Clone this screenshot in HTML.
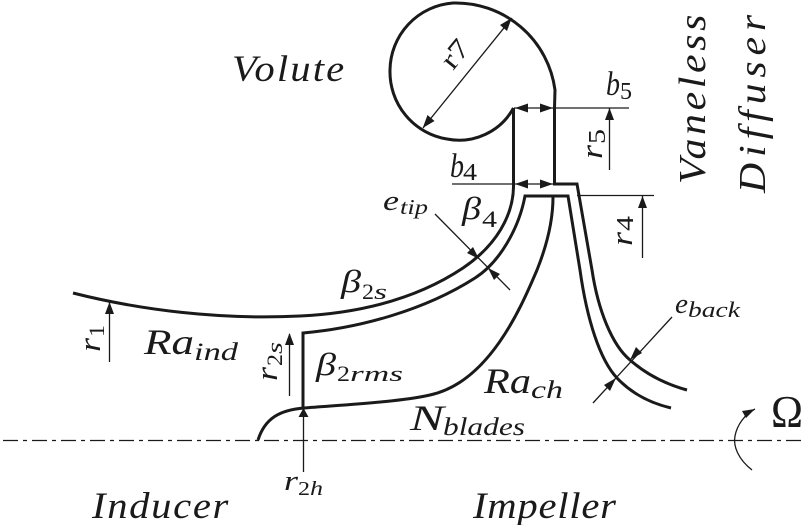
<!DOCTYPE html>
<html>
<head>
<meta charset="utf-8">
<style>
html,body{margin:0;padding:0;background:#fff;width:804px;height:525px;overflow:hidden}
svg{display:block}
text{font-family:"Liberation Serif",serif;font-style:italic;fill:#1a1a1a}
text.n{font-style:normal}
.c{fill:none;stroke:#1a1a1a;stroke-width:3;stroke-linejoin:miter}
.t{fill:none;stroke:#1a1a1a;stroke-width:1.3}
.a{fill:#1a1a1a;stroke:none}
</style>
</head>
<body>
<svg width="804" height="525" viewBox="0 0 804 525" xmlns="http://www.w3.org/2000/svg">
<!-- centre line -->
<line x1="0" y1="440.5" x2="804" y2="440.5" stroke="#1a1a1a" stroke-width="1.3" stroke-dasharray="15 5 4 5" stroke-dashoffset="26"/>

<!-- volute and casing -->
<path class="c" d="M513.5 108 A62 62 0 0 1 447 139 A68 68 0 0 1 390 70 A68 68 0 0 1 453 3 A100 100 0 0 1 555 90 L554.5 108 L554.5 184 L577 184 L592 270 C598 310 612 345 630 360 C646 374 665 384 687 390"/>
<path class="c" d="M513.5 108 L513.500 187 C513 215 497 245 463 268 C430 290 380 312 300 316 C220 320 140 310 73 293"/>
<path class="c" d="M303 408 L303 333 C360 328 425 310 475 278 C500 262 519 228 525 196 L568 196 L580 270 C587 320 600 360 617 378 C632 394 650 403 671 408"/>
<path class="c" d="M553 197 C553 225 545 250 537 270 C522 305 490 382 430 395 C400 402 340 405 304 408 C280 410 265 418 258 440"/>

<!-- r7 -->
<line class="t" x1="423" y1="128" x2="512" y2="18"/>
<polygon class="a" points="511.700,18 507,31 500,25"/>
<polygon class="a" points="422.700,128 434.500,121 427.500,115"/>
<!-- b5 -->
<line class="t" x1="514" y1="108" x2="629" y2="108"/>
<polygon class="a" points="515,108 528,103.500 528,112.500"/>
<polygon class="a" points="553,108 540,103.500 540,112.500"/>
<!-- r5 -->
<line class="t" x1="609.500" y1="108" x2="609.500" y2="170"/>
<polygon class="a" points="609.500,108 605,120 614,120"/>
<!-- b4 -->
<line class="t" x1="452" y1="184" x2="553" y2="184"/>
<polygon class="a" points="515,184 528,179.500 528,188.500"/>
<polygon class="a" points="553,184 540,179.500 540,188.500"/>
<!-- r4 -->
<line class="t" x1="577" y1="195.500" x2="654" y2="195.500"/>
<line class="t" x1="642.500" y1="196" x2="642.500" y2="258"/>
<polygon class="a" points="642.500,196 638,208 647,208"/>
<!-- etip -->
<line class="t" x1="435" y1="214" x2="510" y2="290"/>
<polygon class="a" points="479,259 473,247 467,253"/>
<polygon class="a" points="488,268 500,274 494,280"/>
<!-- eback -->
<line class="t" x1="672" y1="317" x2="593" y2="403"/>
<polygon class="a" points="630,360 642,353 636,347"/>
<polygon class="a" points="616,378 610,391 604,385"/>
<!-- r1 -->
<line class="t" x1="109.500" y1="302" x2="109.500" y2="362"/>
<polygon class="a" points="109.500,302 105,314 114,314"/>
<!-- r2s -->
<line class="t" x1="289.500" y1="334" x2="289.500" y2="396"/>
<polygon class="a" points="289.500,333 285,345 294,345"/>
<!-- r2h -->
<line class="t" x1="303.500" y1="409" x2="303.500" y2="472"/>
<polygon class="a" points="303.500,408 298.500,417 308.500,417"/>
<!-- omega arrow -->
<path class="t" d="M752 470 C738 459 733 446 735 436 C737 425 745 414 755 409"/>
<polygon class="a" points="755,409 746,418 742,411"/>

<!-- large labels -->
<text transform="translate(232,81) scale(1.1,1)" font-size="37" textLength="102" lengthAdjust="spacing">Volute</text>
<text transform="translate(705,184) rotate(-90) scale(1.1,1)" font-size="38" textLength="154" lengthAdjust="spacing">Vaneless</text>
<text transform="translate(765,193) rotate(-90) scale(1.1,1)" font-size="38" textLength="162" lengthAdjust="spacing">Diffuser</text>
<text transform="translate(92,518) scale(1.1,1)" font-size="37" textLength="124" lengthAdjust="spacing">Inducer</text>
<text transform="translate(473,518) scale(1.1,1)" font-size="37" textLength="130" lengthAdjust="spacing">Impeller</text>

<!-- r7 -->
<text class="n" transform="translate(453,71) rotate(-51)" font-size="28" textLength="29" lengthAdjust="spacingAndGlyphs">r7</text>
<!-- b5 -->
<text x="606" y="95" font-size="34" textLength="14" lengthAdjust="spacingAndGlyphs">b</text>
<text class="n" x="620" y="99" font-size="24" textLength="12" lengthAdjust="spacingAndGlyphs">5</text>
<!-- r5 -->
<text transform="translate(602,159) rotate(-90)" font-size="31" textLength="14" lengthAdjust="spacingAndGlyphs">r</text>
<text class="n" transform="translate(605,144) rotate(-90)" font-size="24" textLength="15" lengthAdjust="spacingAndGlyphs">5</text>
<!-- b4 -->
<text x="450" y="177" font-size="34" textLength="14" lengthAdjust="spacingAndGlyphs">b</text>
<text class="n" x="463" y="180" font-size="24" textLength="14" lengthAdjust="spacingAndGlyphs">4</text>
<!-- r4 -->
<text transform="translate(632,246) rotate(-90)" font-size="31" textLength="14" lengthAdjust="spacingAndGlyphs">r</text>
<text class="n" transform="translate(633,231) rotate(-90)" font-size="24" textLength="15" lengthAdjust="spacingAndGlyphs">4</text>
<!-- etip -->
<text x="383" y="210" font-size="28" textLength="16" lengthAdjust="spacingAndGlyphs">e</text>
<text x="400" y="214" font-size="21" textLength="28" lengthAdjust="spacingAndGlyphs">tip</text>
<!-- beta4 -->
<text x="462" y="219" font-size="32" textLength="19" lengthAdjust="spacingAndGlyphs">β</text>
<text class="n" x="482" y="227" font-size="23" textLength="15" lengthAdjust="spacingAndGlyphs">4</text>
<!-- beta2s -->
<text x="341" y="292" font-size="32" textLength="20" lengthAdjust="spacingAndGlyphs">β</text>
<text class="n" x="362" y="299" font-size="22" textLength="12" lengthAdjust="spacingAndGlyphs">2</text>
<text x="374" y="299" font-size="22" textLength="13" lengthAdjust="spacingAndGlyphs">s</text>
<!-- beta2rms -->
<text x="316" y="375" font-size="32" textLength="20" lengthAdjust="spacingAndGlyphs">β</text>
<text class="n" x="337" y="381" font-size="22" textLength="13" lengthAdjust="spacingAndGlyphs">2</text>
<text x="350" y="381" font-size="22" textLength="53" lengthAdjust="spacingAndGlyphs">rms</text>
<!-- Ra ind -->
<text x="144" y="354" font-size="36" textLength="50" lengthAdjust="spacingAndGlyphs">Ra</text>
<text x="194" y="360" font-size="25" textLength="44" lengthAdjust="spacingAndGlyphs">ind</text>
<!-- Ra ch -->
<text x="484" y="393" font-size="36" textLength="47" lengthAdjust="spacingAndGlyphs">Ra</text>
<text x="531" y="398" font-size="25" textLength="32" lengthAdjust="spacingAndGlyphs">ch</text>
<!-- N blades -->
<text x="410" y="430" font-size="36" textLength="34" lengthAdjust="spacingAndGlyphs">N</text>
<text x="443" y="435" font-size="25" textLength="82" lengthAdjust="spacingAndGlyphs">blades</text>
<!-- r2h -->
<text x="284" y="490" font-size="28" textLength="14" lengthAdjust="spacingAndGlyphs">r</text>
<text class="n" x="298" y="495" font-size="20" textLength="12" lengthAdjust="spacingAndGlyphs">2</text>
<text x="310" y="495" font-size="20" textLength="13" lengthAdjust="spacingAndGlyphs">h</text>
<!-- r1 -->
<text transform="translate(100,352) rotate(-90)" font-size="31" textLength="14" lengthAdjust="spacingAndGlyphs">r</text>
<text class="n" transform="translate(104,337) rotate(-90)" font-size="22" textLength="12" lengthAdjust="spacingAndGlyphs">1</text>
<!-- r2s -->
<text transform="translate(277,381) rotate(-90)" font-size="31" textLength="14" lengthAdjust="spacingAndGlyphs">r</text>
<text class="n" transform="translate(282,366) rotate(-90)" font-size="22" textLength="12" lengthAdjust="spacingAndGlyphs">2</text>
<text transform="translate(282,354) rotate(-90)" font-size="22" textLength="12" lengthAdjust="spacingAndGlyphs">s</text>
<!-- eback -->
<text x="675" y="313" font-size="28" textLength="13" lengthAdjust="spacingAndGlyphs">e</text>
<text x="688" y="317" font-size="22" textLength="52" lengthAdjust="spacingAndGlyphs">back</text>
<!-- Omega -->
<text class="n" x="771" y="427" font-size="46" textLength="32" lengthAdjust="spacingAndGlyphs">Ω</text>
</svg>
</body>
</html>
